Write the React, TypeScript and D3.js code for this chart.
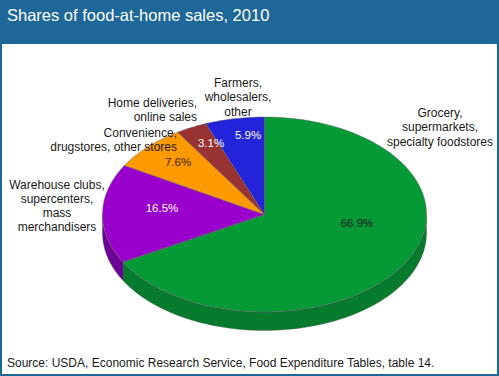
import React from "react";
import * as d3 from "d3";

const categories = [
  "Grocery, supermarkets, specialty foodstores",
  "Warehouse clubs, supercenters, mass merchandisers",
  "Convenience, drugstores, other stores",
  "Home deliveries, online sales",
  "Farmers, wholesalers, other",
];
const values = [66.9, 16.5, 7.6, 3.1, 5.9];
const pctLabels = ["66.9%", "16.5%", "7.6%", "3.1%", "5.9%"];
const topColors = ["#069a37", "#9a00cc", "#ff9900", "#993333", "#2323d9"];
const sideColors = ["#067a2d", "#6c0094", "#c67600", "#702424", "#1818a0"];
const pctColors = ["#1a1a1a", "#ffffff", "#3a2200", "#ffffff", "#ffffff"];
const labelLines = [
  ["Grocery,", "supermarkets,", "specialty foodstores"],
  ["Warehouse clubs,", "supercenters,", "mass", "merchandisers"],
  ["Convenience,", "drugstores, other stores"],
  ["Home deliveries,", "online sales"],
  ["Farmers,", "wholesalers,", "other"],
];

const W = 499;
const H = 376;
const cx = 264.5;
const cy = 214.5;
const rx = 162;
const ry = 97.5;
const depth = 18.5;
const FONT = "Arial, 'Liberation Sans', sans-serif";

const labelPos: { x: number; y: number; anchor: string }[] = [
  { x: 440, y: 117, anchor: "middle" },
  { x: 57, y: 188.5, anchor: "middle" },
  { x: 177, y: 137, anchor: "end" },
  { x: 197, y: 107, anchor: "end" },
  { x: 238, y: 87, anchor: "middle" },
];
const pctPos = [
  { x: 357, y: 227 },
  { x: 162, y: 212 },
  { x: 178, y: 166 },
  { x: 211, y: 147 },
  { x: 248, y: 139 },
];

function pt(a: number, dy = 0): [number, number] {
  return [cx + rx * Math.sin(a), cy - ry * Math.cos(a) + dy];
}

function arcPts(a0: number, a1: number, dy = 0): [number, number][] {
  const n = Math.max(2, Math.ceil(Math.abs(a1 - a0) / 0.02));
  const out: [number, number][] = [];
  for (let i = 0; i <= n; i++) out.push(pt(a0 + ((a1 - a0) * i) / n, dy));
  return out;
}

function toPath(points: [number, number][]) {
  return "M" + points.map((p) => p[0].toFixed(2) + "," + p[1].toFixed(2)).join("L") + "Z";
}

export default function App() {
  const arcs = d3
    .pie<number>()
    .sort(null)
    .startAngle(0)
    .endAngle(2 * Math.PI)(values);

  const sides: { d: string; fill: string }[] = [];
  arcs.forEach((a, i) => {
    const s = Math.max(a.startAngle, Math.PI / 2);
    const e = Math.min(a.endAngle, (3 * Math.PI) / 2);
    if (e > s) {
      const top = arcPts(s, e);
      const bottom = arcPts(e, s, depth);
      sides.push({ d: toPath([...top, ...bottom]), fill: sideColors[i] });
    }
  });

  const tops = arcs.map((a, i) => ({
    d: toPath([[cx, cy], ...arcPts(a.startAngle, a.endAngle)]),
    fill: topColors[i],
  }));

  return (
    <svg
      width={W}
      height={H}
      style={{ position: "absolute", left: 0, top: 0 }}
      xmlns="http://www.w3.org/2000/svg"
    >
      <rect x={0} y={0} width={W} height={H} fill="#ffffff" />
      <rect x={0} y={0} width={W} height={44} fill="#1d6799" />
      <rect x={1} y={1} width={W - 2} height={H - 2} fill="none" stroke="#1d6799" strokeWidth={2} />
      <text x={7} y={21} fill="#ffffff" fontFamily={FONT} fontSize={16.5}>
        Shares of food-at-home sales, 2010
      </text>

      {sides.map((s, i) => (
        <path key={"s" + i} d={s.d} fill={s.fill} stroke="#555" strokeOpacity={0.5} strokeWidth={0.7} />
      ))}
      {tops.map((t, i) => (
        <path key={"t" + i} d={t.d} fill={t.fill} stroke="#666" strokeOpacity={0.6} strokeWidth={0.8} />
      ))}

      {pctLabels.map((p, i) => (
        <text
          key={"p" + i}
          x={pctPos[i].x}
          y={pctPos[i].y}
          textAnchor="middle"
          fontFamily={FONT}
          fontSize={11.5}
          fill={pctColors[i]}
        >
          {p}
        </text>
      ))}

      {labelLines.map((lines, i) => (
        <text
          key={"l" + i}
          x={labelPos[i].x}
          y={labelPos[i].y}
          textAnchor={labelPos[i].anchor as any}
          fontFamily={FONT}
          fontSize={12}
          fill="#1a1a1a"
        >
          {lines.map((ln, j) => (
            <tspan key={j} x={labelPos[i].x} dy={j === 0 ? 0 : 14.3}>
              {ln}
            </tspan>
          ))}
        </text>
      ))}

      <text x={7} y={367} fontFamily={FONT} fontSize={12} fill="#1a1a1a">
        Source: USDA, Economic Research Service, Food Expenditure Tables, table 14.
      </text>
    </svg>
  );
}
